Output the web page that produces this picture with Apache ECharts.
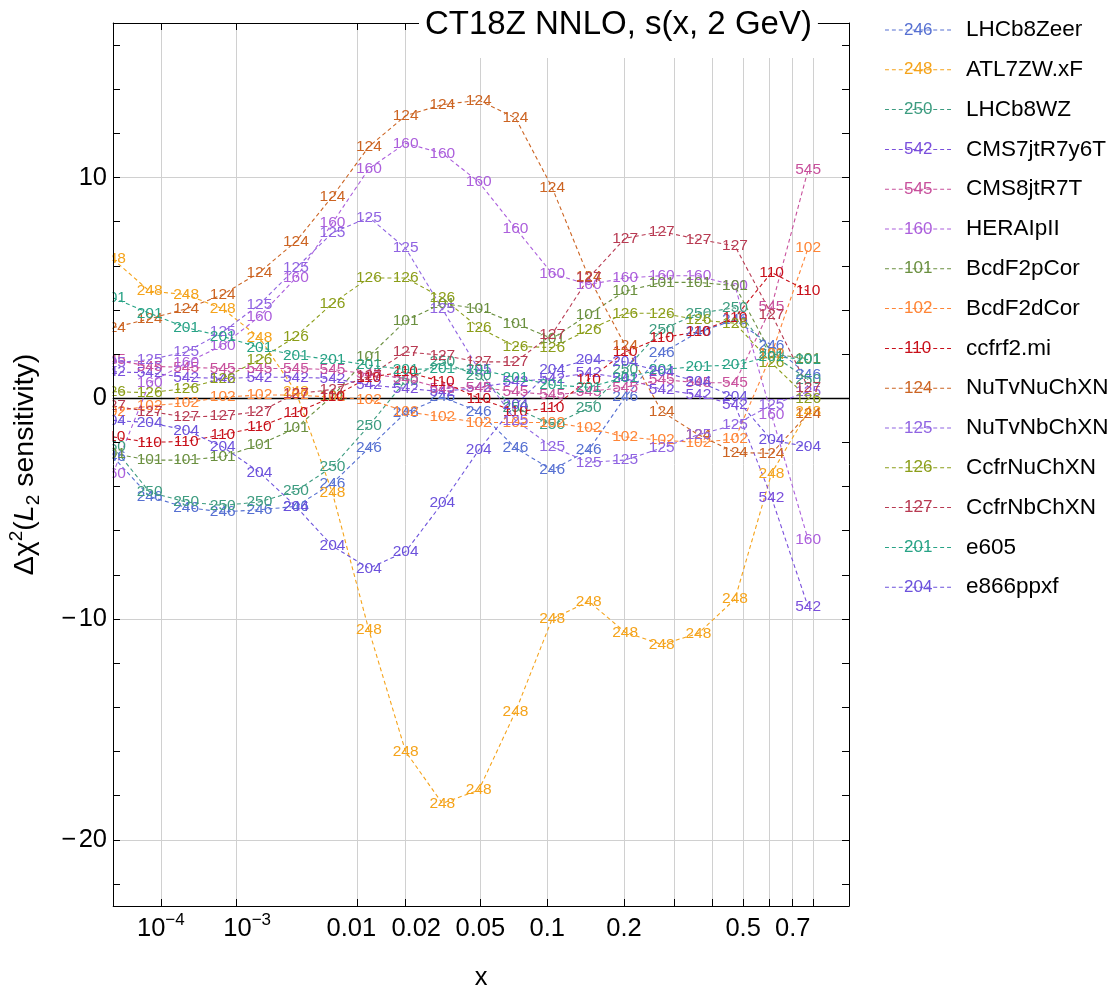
<!DOCTYPE html>
<html><head><meta charset="utf-8">
<script src="https://cdn.jsdelivr.net/npm/echarts@6/dist/echarts.min.js"></script>
<style>html,body{margin:0;padding:0;background:#fff}#c{width:1113px;height:987px}</style>
</head><body><div id="c"></div><script>
// x grid of the sensitivity points
const xGrid = [1.0e-5, 6.35e-5, 2.44e-4, 7.05e-4, 1.69e-3, 3.55e-3, 6.79e-3, 0.0120, 0.0201, 0.0321, 0.0491, 0.0728, 0.1048, 0.1471, 0.2021, 0.2725, 0.3613, 0.4719, 0.6080, 0.7738];

const seriesIds = ['246','248','250','542','545','160','101','102','110','124','125','126','127','201','204'];
const seriesNames = ['LHCb8Zeer','ATL7ZW.xF','LHCb8WZ','CMS7jtR7y6T','CMS8jtR7T','HERAIpII','BcdF2pCor','BcdF2dCor','ccfrf2.mi','NuTvNuChXN','NuTvNbChXN','CcfrNuChXN','CcfrNbChXN','e605','e866ppxf'];

const s246 = [-2.65,-4.45,-4.95,-5.15,-5.05,-4.9,-3.85,-2.25,-0.65,0.05,-0.6,-2.25,-3.25,-2.35,0.05,2.05,3.0,3.55,2.4,1.05];
const s248 = [6.3,4.85,4.7,4.05,2.75,0.3,-4.3,-10.5,-16.0,-18.35,-17.75,-14.2,-10.0,-9.2,-10.6,-11.15,-10.65,-9.1,-3.4,-0.6];
const s250 = [-2.2,-4.25,-4.7,-4.85,-4.7,-4.2,-3.1,-1.25,0.8,1.65,1.0,-0.45,-1.2,-0.45,1.3,3.1,3.85,4.1,2.0,0.85];
const s542 = [1.2,1.15,0.95,0.9,0.95,0.95,0.9,0.6,0.45,0.3,0.5,0.75,0.9,1.15,0.9,0.4,0.15,-0.3,-4.5,-9.45];
const s545 = [1.75,1.45,1.4,1.35,1.35,1.35,1.3,1.1,0.9,0.45,0.5,0.3,0.15,0.3,0.5,0.85,0.7,0.7,4.15,10.35];
const s160 = [-3.4,0.7,1.6,2.4,3.7,5.45,7.95,10.4,11.55,11.1,9.8,7.7,5.65,5.15,5.45,5.55,5.55,5.1,-0.75,-6.4];
const s101 = [-2.5,-2.8,-2.8,-2.65,-2.1,-1.35,0.1,1.9,3.5,4.3,4.05,3.4,2.7,3.8,4.85,5.25,5.25,5.1,2.0,1.8];
const s102 = [-0.6,-0.35,-0.2,0.05,0.15,0.15,0.05,-0.05,-0.6,-0.85,-1.1,-1.1,-1.1,-1.35,-1.75,-1.9,-2.0,-1.85,2.0,6.8];
const s110 = [-1.75,-2.0,-1.95,-1.65,-1.3,-0.65,0.05,0.95,1.2,0.75,0.0,-0.6,-0.45,0.85,2.1,2.75,3.0,3.65,5.7,4.85];
const s124 = [3.2,3.6,4.05,4.7,5.7,7.1,9.15,11.4,12.8,13.3,13.5,12.7,9.55,5.5,2.4,-0.6,-1.65,-2.45,-2.5,-0.7];
const s125 = [1.6,1.75,2.1,3.0,4.25,5.9,7.5,8.2,6.8,4.05,1.3,-1.0,-2.2,-2.9,-2.8,-2.25,-1.65,-1.2,-0.3,0.3];
const s126 = [0.3,0.25,0.45,0.9,1.75,2.8,4.3,5.45,5.45,4.55,3.2,2.35,2.3,3.1,3.85,3.85,3.55,3.4,1.6,0.0];
const s127 = [-0.35,-0.6,-0.85,-0.8,-0.6,0.2,0.4,1.0,2.1,1.95,1.65,1.65,2.9,5.45,7.25,7.55,7.2,6.9,3.8,0.5];
const s201 = [4.55,3.85,3.2,2.8,2.3,1.95,1.75,1.5,1.3,1.35,1.3,0.95,0.6,0.5,0.95,1.3,1.45,1.5,1.9,1.75];
const s204 = [-1.0,-1.1,-1.45,-2.2,-3.35,-4.9,-6.7,-7.7,-6.95,-4.75,-2.35,-0.3,1.3,1.75,1.65,1.2,0.75,0.05,-1.9,-2.2];

const seriesValues = [s246,s248,s250,s542,s545,s160,s101,s102,s110,s124,s125,s126,s127,s201,s204];
const seriesColors = ['#5670d2','#f5a31a','#3d9c80','#7a4fdc','#c8509c','#ac5fdc','#6b9040','#ff8536','#c8101a','#cc6422','#9064e2','#8c9e1a','#b83a52','#28a386','#6c52dc'];

const xTickValues = [1e-4,1e-3,0.01,0.02,0.05,0.1,0.2,0.3,0.4,0.5,0.6,0.7,0.8];
const xLabelValues = [1e-4,1e-3,0.01,0.02,0.05,0.1,0.2,0.5,0.7];
const xLabelTexts = ['{b|10}{s|\u22124}','{bp|10}{s|\u22123}','{l|0.01}','{r|0.02}','0.05','0.1','0.2','0.5','0.7'];
const yTickValues = [-22,-20,-18,-16,-14,-12,-10,-8,-6,-4,-2,0,2,4,6,8,10,12,14,16];
const yLabelValues = [-20,-10,0,10];
const yGridValues = [-20,-10,10];

const FF = '"Liberation Sans", Arial, Helvetica, sans-serif';
const tx = x => Math.pow(x, 0.2);   // horizontal scale: x^0.2
const X_MIN = 1e-5, X_MAX = 1;

const chart = echarts.init(document.getElementById('c'), null, {renderer: 'canvas'});

const dashPath = (() => { let p = 'path://'; for (let i = 0; i < 10; i++) p += `M${i*7},0h4v1h-4z`; return p; })();

const series = seriesIds.map((id, i) => ({
  name: seriesNames[i], type: 'line', xAxisIndex: 0, yAxisIndex: 0,
  data: xGrid.map((x, k) => [tx(x), seriesValues[i][k]]),
  symbol: 'circle', symbolSize: 1, showSymbol: true, clip: false,
  itemStyle: {color: 'rgba(0,0,0,0)'},
  lineStyle: {color: seriesColors[i], width: 1.1, type: [4, 3]},
  label: {show: true, position: 'inside', formatter: id, color: seriesColors[i], fontSize: 15.5, fontFamily: FF},
  emphasis: {disabled: true}, silent: true
}));

const tickFont = {fontSize: 25.5, lineHeight: 34, fontFamily: FF, color: '#000'};

const option = {
  animation: false,
  backgroundColor: '#fff',
  title: {
    text: 'CT18Z NNLO, s(x, 2 GeV)', left: 419, top: 0, padding: [7, 6, 15, 6],
    backgroundColor: '#fff', z: 10,
    textStyle: {fontSize: 33, fontWeight: 'normal', fontFamily: FF, color: '#000', lineHeight: 36}
  },
  grid: {left: 113, right: 264, top: 23, bottom: 81, containLabel: false, outerBoundsMode: 'none'},
  legend: [
    {
      orient: 'vertical', left: 885, top: 18, padding: 0, itemGap: 15.8,
      itemWidth: 66, itemHeight: 1.2, selectedMode: false,
      textStyle: {fontSize: 22.5, lineHeight: 24, color: '#000', fontFamily: FF, padding: [0, 0, 0, 10]},
      data: seriesNames.map((n, i) => ({name: n, icon: dashPath, itemStyle: {color: seriesColors[i]}}))
    },
    {
      orient: 'vertical', left: 898, top: 18, padding: 0, itemGap: 15.8,
      itemWidth: 1, itemHeight: 1, selectedMode: false,
      formatter: n => seriesIds[seriesNames.indexOf(n)],
      textStyle: {fontSize: 17, lineHeight: 24, fontFamily: FF},
      data: seriesNames.map((n, i) => ({name: n, icon: 'rect', itemStyle: {color: 'rgba(0,0,0,0)'}, textStyle: {color: seriesColors[i]}}))
    }
  ],
  xAxis: [
    {
      type: 'value', position: 'bottom', min: tx(X_MIN), max: tx(X_MAX),
      axisLine: {show: true, onZero: false, lineStyle: {color: '#000', width: 1}},
      axisTick: {show: true, inside: true, length: 7, customValues: xTickValues.map(tx), lineStyle: {color: '#000'}},
      axisLabel: Object.assign({
        customValues: xLabelValues.map(tx), margin: 6,
        formatter: v => { for (let i = 0; i < xLabelValues.length; i++) if (Math.abs(tx(xLabelValues[i]) - v) < 1e-6) return xLabelTexts[i]; return ''; },
        rich: {
          b: tickFont,
          bp: Object.assign({}, tickFont, {padding: [0, 0, 0, 21]}),
          l: Object.assign({}, tickFont, {padding: [0, 11, 0, 0]}),
          r: Object.assign({}, tickFont, {padding: [0, 0, 0, 22]}),
          s: {fontSize: 17, lineHeight: 17, verticalAlign: 'top', fontFamily: FF, color: '#000'}
        }
      }, tickFont),
      splitLine: {show: true, lineStyle: {color: '#d0d0d0', width: 1}},
      name: 'x', nameLocation: 'middle', nameGap: 59,
      nameTextStyle: {fontSize: 25.5, fontFamily: FF, color: '#000'}
    },
    {
      type: 'value', position: 'top', min: tx(X_MIN), max: tx(X_MAX),
      axisLine: {show: true, onZero: false, lineStyle: {color: '#000', width: 1}},
      axisTick: {show: true, inside: true, length: 7, customValues: xTickValues.map(tx), lineStyle: {color: '#000'}},
      axisLabel: {show: false}, splitLine: {show: false}
    },
    {
      type: 'value', position: 'bottom', min: tx(X_MIN), max: tx(X_MAX),
      axisLine: {show: true, onZero: true, onZeroAxisIndex: 0, lineStyle: {color: '#000', width: 1.4}},
      axisTick: {show: false}, axisLabel: {show: false}, splitLine: {show: false}
    }
  ],
  yAxis: [
    {
      type: 'value', min: -23, max: 17,
      axisLine: {show: false}, axisTick: {show: false, customValues: yGridValues},
      axisLabel: {show: false}, splitLine: {show: true, lineStyle: {color: '#d0d0d0', width: 1}}
    },
    {
      type: 'value', position: 'left', min: -23, max: 17, z: 10,
      axisLine: {show: true, onZero: false, lineStyle: {color: '#000', width: 1}},
      axisTick: {show: true, inside: true, length: 7, customValues: yTickValues, lineStyle: {color: '#000'}},
      axisLabel: {customValues: yLabelValues, margin: 6, fontSize: 25.5, color: '#000', fontFamily: FF,
        formatter: v => v < 0 ? '\u2212\u200a' + Math.abs(v) : String(v)},
      splitLine: {show: false},
      name: '{n|\u0394\u03c7}{sup|2}{n|(}{it|L}{sub|2}{n| sensitivity)}',
      nameLocation: 'middle', nameGap: 70, nameRotate: 90,
      nameTextStyle: {fontSize: 28.5, fontFamily: FF, color: '#000', rich: {
        n: {fontSize: 28.5, lineHeight: 36, fontFamily: FF, color: '#000'},
        it: {fontSize: 28.5, lineHeight: 36, fontStyle: 'italic', fontFamily: FF, color: '#000'},
        sup: {fontSize: 19, lineHeight: 19, verticalAlign: 'top', fontFamily: FF, color: '#000'},
        sub: {fontSize: 19, lineHeight: 19, verticalAlign: 'bottom', fontFamily: FF, color: '#000'}
      }}
    },
    {
      type: 'value', position: 'right', min: -23, max: 17,
      axisLine: {show: true, onZero: false, lineStyle: {color: '#000', width: 1}},
      axisTick: {show: true, inside: true, length: 7, customValues: yTickValues, lineStyle: {color: '#000'}},
      axisLabel: {show: false}, splitLine: {show: false}
    }
  ],
  graphic: [
    {type: 'rect', shape: {x: 0, y: 0, width: 112.5, height: 987}, style: {fill: '#fff'}, z: 5, silent: true}
  ],
  series: series
};
chart.setOption(option);
</script></body></html>
